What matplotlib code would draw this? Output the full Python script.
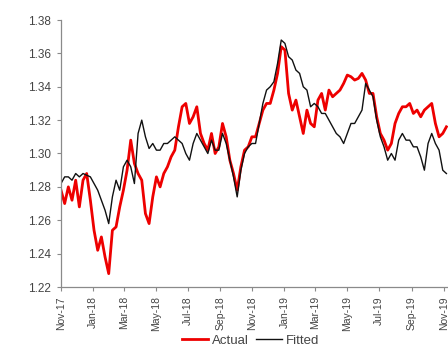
import matplotlib
matplotlib.use("Agg")
import matplotlib.pyplot as plt
import matplotlib.dates as mdates
import pandas as pd

plt.rcParams["font.family"] = ["Liberation Sans", "DejaVu Sans"]

# ---- data: weekly readings, starting 1 Nov 2017 ----
start = "2017-11-01"
actual = [
    1.278, 1.270, 1.280, 1.272, 1.284, 1.268, 1.284, 1.288, 1.272, 1.254,
    1.242, 1.250, 1.238, 1.228, 1.254, 1.256, 1.268, 1.278, 1.290, 1.308,
    1.294, 1.288, 1.284, 1.264, 1.258, 1.274, 1.286, 1.280, 1.288, 1.292,
    1.298, 1.302, 1.316, 1.328, 1.330, 1.318, 1.322, 1.328, 1.312, 1.306,
    1.302, 1.312, 1.300, 1.304, 1.318, 1.310, 1.296, 1.288, 1.278, 1.292,
    1.302, 1.304, 1.310, 1.310, 1.318, 1.326, 1.330, 1.330, 1.338, 1.348,
    1.364, 1.362, 1.336, 1.326, 1.332, 1.322, 1.312, 1.326, 1.318, 1.316,
    1.332, 1.336, 1.326, 1.338, 1.334, 1.336, 1.338, 1.342, 1.347, 1.346,
    1.344, 1.345, 1.348, 1.344, 1.336, 1.336, 1.322, 1.312, 1.308, 1.302,
    1.306, 1.318, 1.324, 1.328, 1.328, 1.330, 1.324, 1.326, 1.322, 1.326,
    1.328, 1.330, 1.318, 1.310, 1.312, 1.316,
]
fitted = [
    1.282, 1.286, 1.286, 1.284, 1.288, 1.286, 1.288, 1.287, 1.286, 1.282,
    1.278, 1.272, 1.266, 1.258, 1.274, 1.284, 1.278, 1.292, 1.296, 1.292,
    1.282, 1.312, 1.320, 1.310, 1.303, 1.306, 1.302, 1.302, 1.306, 1.306,
    1.308, 1.310, 1.308, 1.306, 1.300, 1.296, 1.306, 1.312, 1.308, 1.304,
    1.300, 1.308, 1.302, 1.302, 1.312, 1.306, 1.296, 1.286, 1.274, 1.290,
    1.300, 1.304, 1.306, 1.306, 1.318, 1.330, 1.338, 1.340, 1.343, 1.354,
    1.368, 1.366, 1.358, 1.356, 1.350, 1.348, 1.340, 1.338, 1.328, 1.330,
    1.328, 1.324, 1.324, 1.320, 1.316, 1.312, 1.310, 1.306, 1.312, 1.318,
    1.318, 1.322, 1.326, 1.342, 1.338, 1.334, 1.320, 1.310, 1.304, 1.296,
    1.300, 1.296, 1.308, 1.312, 1.308, 1.308, 1.304, 1.304, 1.298, 1.290,
    1.306, 1.312, 1.306, 1.302, 1.290, 1.288,
]
dates = pd.date_range(start, periods=len(actual), freq="7D")

yticks = [1.22, 1.24, 1.26, 1.28, 1.30, 1.32, 1.34, 1.36, 1.38]
GREY = "#8a8a8a"
TXT = "#444444"

fig = plt.figure(figsize=(4.48, 3.47), dpi=100)
# axes runs past the right edge, as in the cropped original
ax = fig.add_axes([61 / 448, 60 / 347, 398 / 448, 267 / 347])

ax.plot(dates, actual, color="#ee0000", lw=2.0, label="Actual")
ax.plot(dates, fitted, color="#111111", lw=1.0, label="Fitted")

ax.set_ylim(1.22, 1.38)
ax.set_yticks(yticks)
ax.set_yticklabels(["%.2f" % v for v in yticks])
ax.set_xlim(pd.Timestamp("2017-11-01"), pd.Timestamp("2019-11-30"))
ax.xaxis.set_major_locator(mdates.MonthLocator(bymonth=[1, 3, 5, 7, 9, 11]))
ax.xaxis.set_major_formatter(mdates.DateFormatter("%b-%y"))
plt.setp(ax.get_xticklabels(), rotation=90)

for s in ("top", "right"):
    ax.spines[s].set_visible(False)
for s in ("left", "bottom"):
    ax.spines[s].set_color(GREY)
    ax.spines[s].set_linewidth(0.9)
ax.tick_params(axis="both", colors=GREY, labelcolor=TXT, labelsize=7.5,
               length=3, width=0.8, direction="out")
ax.tick_params(axis="y", labelsize=8.5, pad=4)

# legend sits in the bottom strip under the rotated date labels
fig.legend(loc="center", bbox_to_anchor=(0.56, 0.018), ncol=2, frameon=False,
           fontsize=9.5, handlelength=2.0, columnspacing=0.5, handletextpad=0.3,
           labelcolor=TXT, borderpad=0.1)

fig.savefig("out.png", dpi=100)
